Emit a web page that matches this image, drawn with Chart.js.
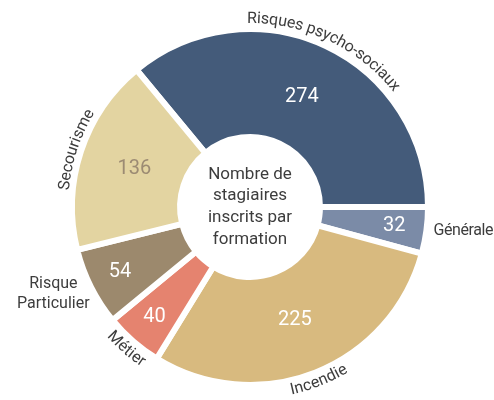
<!DOCTYPE html>
<html lang="fr">
<head>
    <meta charset="UTF-8">
    <title>Stagiaires par formation</title>
    <script src="https://cdn.jsdelivr.net/npm/chart.js"></script>
    <style>
        html, body { margin: 0; padding: 0; background: #fff; }
    </style>
</head>
<body>
    <canvas id="formationChart" width="494" height="400"></canvas>
    <script>
        // Données : nombre de stagiaires inscrits par formation
        const categories = ['Risques psycho-sociaux', 'Générale', 'Incendie', 'Métier', 'Risque Particulier', 'Secourisme'];
        const stagiaires = [274, 32, 225, 40, 54, 136];
        const couleurs = ['#445b7a', '#7b8ba7', '#d8ba7f', '#e5836f', '#9c896d', '#e3d4a1'];
        const couleursValeurs = ['#ffffff', '#ffffff', '#ffffff', '#ffffff', '#ffffff', '#9c8b73'];
        const titreCentre = ['Nombre de', 'stagiaires', 'inscrits par', 'formation'];

        const police = 'Roboto, "Noto Sans", sans-serif';
        const gris = '#3d3d3d';

        // façon d'écrire le nom de chaque part : le long de l'arc ou à plat
        const styleNoms = [
            { mode: 'arcOut', r: 10 },
            { mode: 'flat', r: 7, align: 'left', dx: 0, dy: 0, serre: '-0.4px' },
            { mode: 'arcIn', r: 10 },
            { mode: 'arcIn', r: 11 },
            { mode: 'flat', r: 22, align: 'center', dx: -18, dy: -3 },
            { mode: 'arcOut', r: 8 }
        ];

        // texte écrit lettre par lettre sur un cercle
        function texteSurArc(ctx, texte, cx, cy, r, milieu, versExterieur) {
            const lettres = [...texte];
            const largeurs = lettres.map(c => ctx.measureText(c).width);
            const total = largeurs.reduce((a, b) => a + b, 0);
            const etendue = total / r;
            let cumul = 0;
            lettres.forEach((c, i) => {
                const decal = (cumul + largeurs[i] / 2) / r;
                const a = versExterieur ? milieu - etendue / 2 + decal : milieu + etendue / 2 - decal;
                ctx.save();
                ctx.translate(cx + r * Math.cos(a), cy + r * Math.sin(a));
                ctx.rotate(versExterieur ? a + Math.PI / 2 : a - Math.PI / 2);
                ctx.fillText(c, 0, 0);
                ctx.restore();
                cumul += largeurs[i];
            });
        }

        const etiquettes = {
            id: 'etiquettes',
            afterDatasetsDraw(chart) {
                const ctx = chart.ctx;
                const arcs = chart.getDatasetMeta(0).data;
                ctx.save();
                ctx.textBaseline = 'middle';

                arcs.forEach((arc, i) => {
                    const { x, y, startAngle, endAngle, innerRadius, outerRadius } = arc;
                    const milieu = (startAngle + endAngle) / 2;
                    const petit = (endAngle - startAngle) < Math.PI / 6;

                    // valeur dans la part
                    const rv = innerRadius + (outerRadius - innerRadius) * (petit ? 0.7 : 0.48);
                    ctx.font = '20px ' + police;
                    ctx.textAlign = 'center';
                    ctx.fillStyle = couleursValeurs[i];
                    ctx.fillText(String(stagiaires[i]), x + rv * Math.cos(milieu), y + rv * Math.sin(milieu));

                    // nom de la formation
                    const s = styleNoms[i];
                    const rn = outerRadius + s.r;
                    ctx.font = '16px ' + police;
                    ctx.fillStyle = gris;
                    if (s.mode === 'flat') {
                        const lignes = categories[i].split(' ');
                        const px = x + rn * Math.cos(milieu) + s.dx;
                        const py = y + rn * Math.sin(milieu) + s.dy;
                        ctx.textAlign = s.align;
                        ctx.letterSpacing = s.serre || '0px';
                        lignes.forEach((l, k) => {
                            ctx.fillText(l, px, py + (k - (lignes.length - 1) / 2) * 19.5);
                        });
                        ctx.letterSpacing = '0px';
                    } else {
                        ctx.textAlign = 'center';
                        texteSurArc(ctx, categories[i], x, y, rn, milieu, s.mode === 'arcOut');
                    }
                });

                // titre au centre de l'anneau
                const { x, y } = arcs[0];
                ctx.font = '17px ' + police;
                ctx.fillStyle = gris;
                ctx.textAlign = 'center';
                titreCentre.forEach((l, k) => {
                    ctx.fillText(l, x, y + (k - 1.5) * 21.8);
                });
                ctx.restore();
            }
        };

        new Chart(document.getElementById('formationChart'), {
            type: 'doughnut',
            data: {
                labels: categories,
                datasets: [{
                    data: stagiaires,
                    backgroundColor: couleurs,
                    borderColor: '#ffffff',
                    borderWidth: 6,
                    borderJoinStyle: 'miter'
                }]
            },
            options: {
                responsive: false,
                animation: false,
                rotation: -39.6,
                cutout: '39.3%',
                layout: { padding: { left: 69, right: 63, top: 26, bottom: 12 } },
                plugins: {
                    legend: { display: false },
                    tooltip: { enabled: false }
                }
            },
            plugins: [etiquettes]
        });
    </script>
</body>
</html>
